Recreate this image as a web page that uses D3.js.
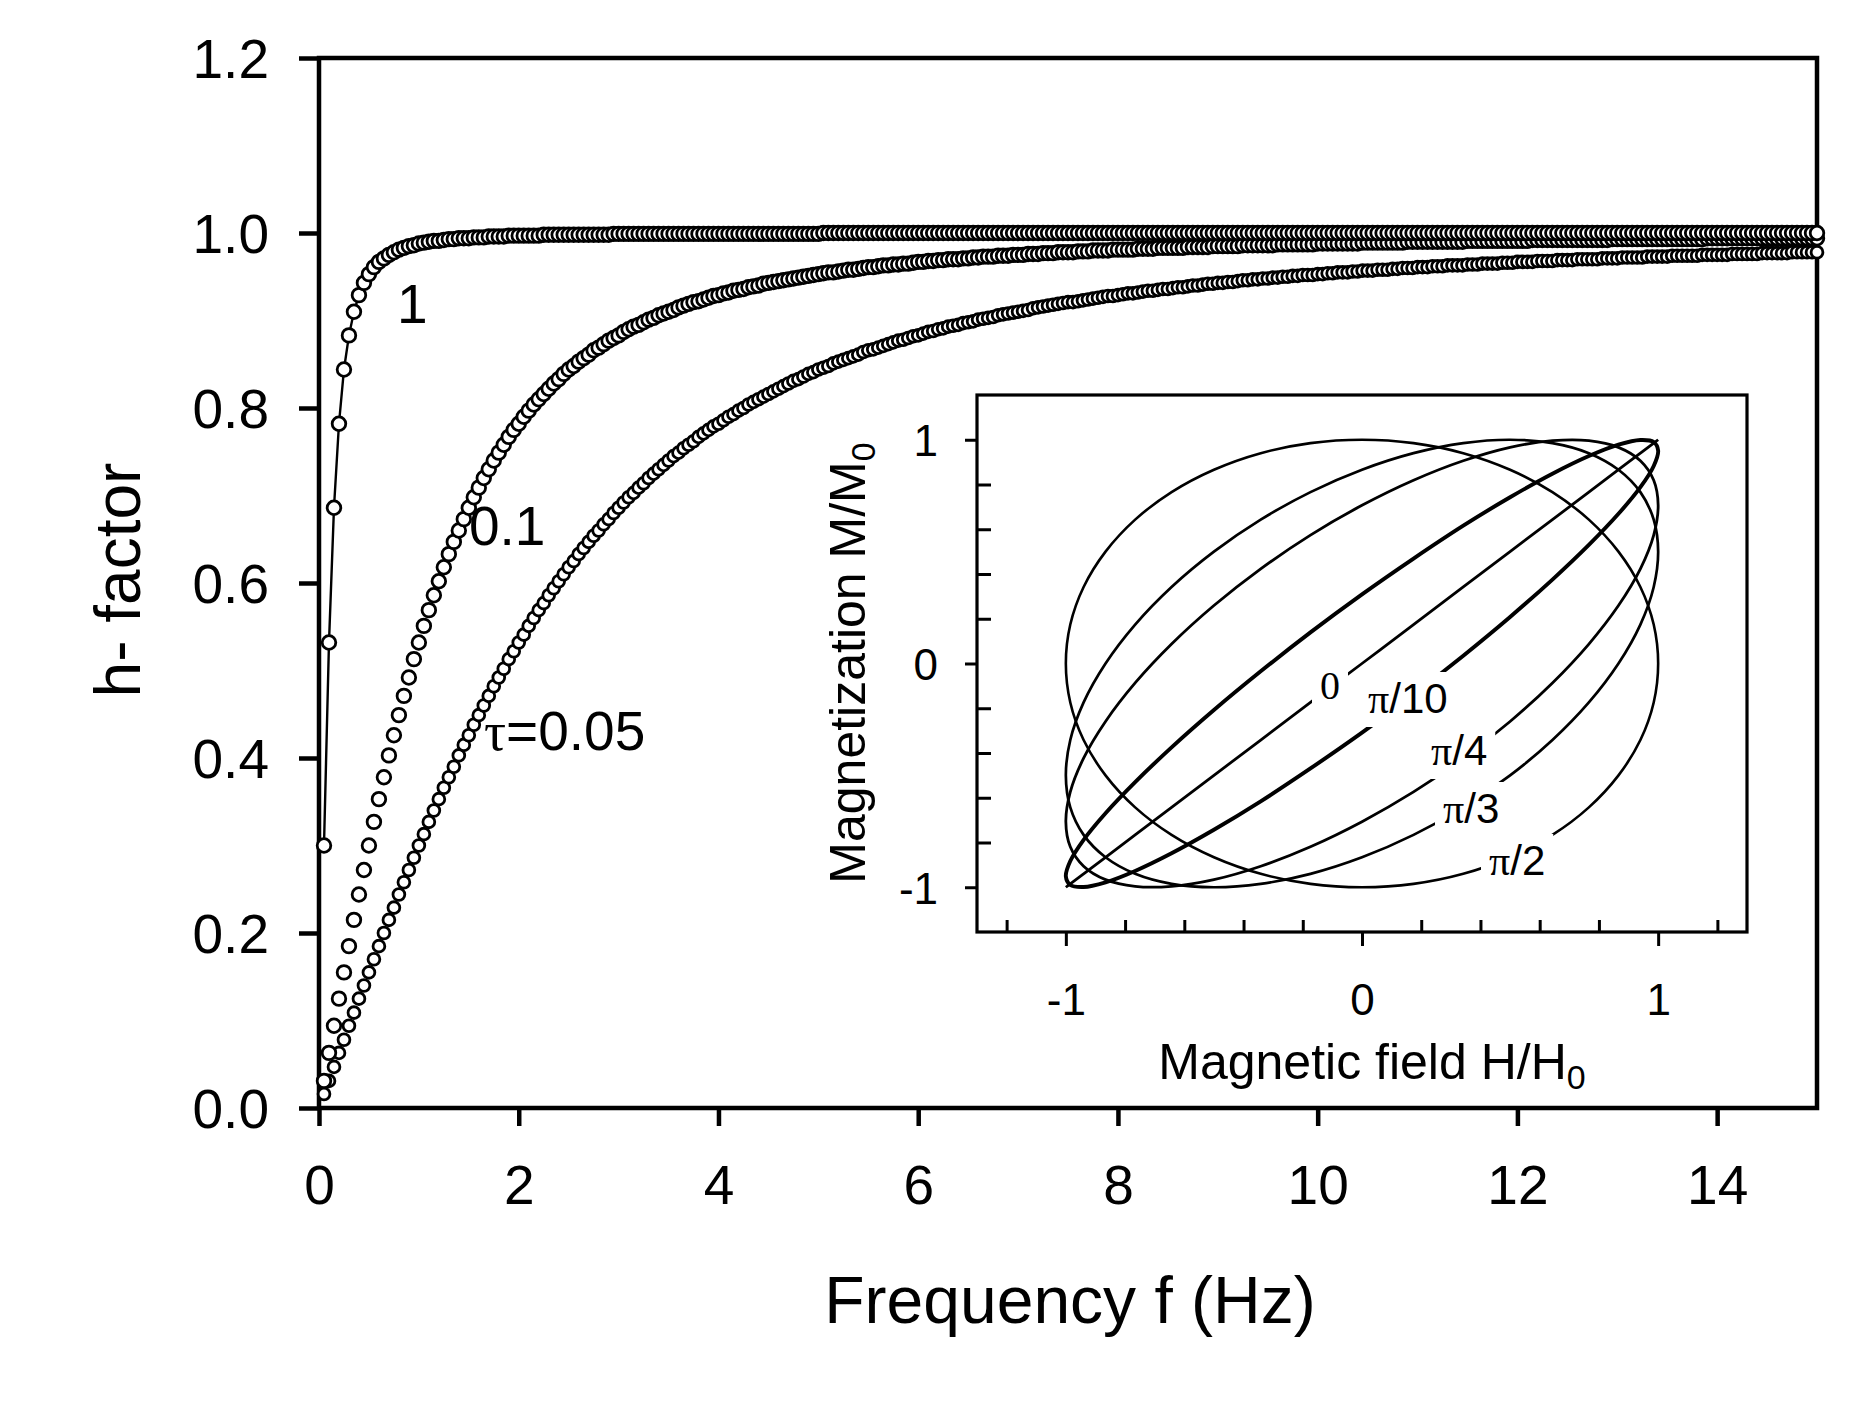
<!DOCTYPE html>
<html>
<head>
<meta charset="utf-8">
<script src="https://cdn.jsdelivr.net/npm/d3@7"></script>
<style>
  body { margin: 0; background: #fff; }
</style>
</head>
<body>
<script>
// 字体
var sans = "'Liberation Sans', Arial, sans-serif";
var serif = "'Liberation Serif', 'Times New Roman', serif";

// 主图数据: h-factor vs frequency, f = 0.05 ... 15 Hz step 0.05 (300 points per curve)
var freqStep = 0.05;
var freq = d3.range(1, 301).map(i => +(i * freqStep).toFixed(2));

var tau1 = [
0.300,0.532,0.686,0.782,0.844,0.883,0.910,0.929,0.943,0.953,
0.961,0.967,0.971,0.975,0.978,0.981,0.983,0.985,0.986,0.988,
0.989,0.990,0.991,0.991,0.992,0.993,0.993,0.994,0.994,0.994,
0.995,0.995,0.995,0.996,0.996,0.996,0.996,0.997,0.997,0.997,
0.997,0.997,0.997,0.997,0.998,0.998,0.998,0.998,0.998,0.998,
0.998,0.998,0.998,0.998,0.998,0.998,0.998,0.998,0.999,0.999,
0.999,0.999,0.999,0.999,0.999,0.999,0.999,0.999,0.999,0.999,
0.999,0.999,0.999,0.999,0.999,0.999,0.999,0.999,0.999,0.999,
0.999,0.999,0.999,0.999,0.999,0.999,0.999,0.999,0.999,0.999,
0.999,0.999,0.999,0.999,0.999,0.999,0.999,0.999,0.999,0.999,
1,1,1,1,1,1,1,1,1,1,1,1,1,1,1,1,1,1,1,1,
1,1,1,1,1,1,1,1,1,1,1,1,1,1,1,1,1,1,1,1,
1,1,1,1,1,1,1,1,1,1,1,1,1,1,1,1,1,1,1,1,
1,1,1,1,1,1,1,1,1,1,1,1,1,1,1,1,1,1,1,1,
1,1,1,1,1,1,1,1,1,1,1,1,1,1,1,1,1,1,1,1,
1,1,1,1,1,1,1,1,1,1,1,1,1,1,1,1,1,1,1,1,
1,1,1,1,1,1,1,1,1,1,1,1,1,1,1,1,1,1,1,1,
1,1,1,1,1,1,1,1,1,1,1,1,1,1,1,1,1,1,1,1,
1,1,1,1,1,1,1,1,1,1,1,1,1,1,1,1,1,1,1,1,
1,1,1,1,1,1,1,1,1,1,1,1,1,1,1,1,1,1,1,1
];

var tau01 = [
0.031,0.063,0.094,0.125,0.155,0.185,0.215,0.244,0.272,0.300,
0.327,0.353,0.378,0.403,0.426,0.449,0.471,0.492,0.513,0.532,
0.551,0.569,0.586,0.602,0.618,0.633,0.647,0.660,0.673,0.686,
0.698,0.709,0.720,0.730,0.740,0.749,0.758,0.767,0.775,0.782,
0.790,0.797,0.804,0.810,0.816,0.822,0.828,0.833,0.839,0.844,
0.848,0.853,0.857,0.861,0.866,0.869,0.873,0.877,0.880,0.883,
0.887,0.890,0.893,0.895,0.898,0.901,0.903,0.906,0.908,0.910,
0.912,0.915,0.917,0.919,0.921,0.922,0.924,0.926,0.928,0.929,
0.931,0.932,0.934,0.935,0.936,0.938,0.939,0.940,0.942,0.943,
0.944,0.945,0.946,0.947,0.948,0.949,0.950,0.951,0.952,0.953,
0.954,0.955,0.955,0.956,0.957,0.958,0.958,0.959,0.960,0.961,
0.961,0.962,0.963,0.963,0.964,0.964,0.965,0.965,0.966,0.967,
0.967,0.968,0.968,0.969,0.969,0.970,0.970,0.970,0.971,0.971,
0.972,0.972,0.973,0.973,0.973,0.974,0.974,0.974,0.975,0.975,
0.975,0.976,0.976,0.976,0.977,0.977,0.977,0.978,0.978,0.978,
0.978,0.979,0.979,0.979,0.980,0.980,0.980,0.980,0.981,0.981,
0.981,0.981,0.981,0.982,0.982,0.982,0.982,0.983,0.983,0.983,
0.983,0.983,0.983,0.984,0.984,0.984,0.984,0.984,0.985,0.985,
0.985,0.985,0.985,0.985,0.986,0.986,0.986,0.986,0.986,0.986,
0.986,0.987,0.987,0.987,0.987,0.987,0.987,0.987,0.987,0.988,
0.988,0.988,0.988,0.988,0.988,0.988,0.988,0.988,0.989,0.989,
0.989,0.989,0.989,0.989,0.989,0.989,0.989,0.990,0.990,0.990,
0.990,0.990,0.990,0.990,0.990,0.990,0.990,0.990,0.990,0.991,
0.991,0.991,0.991,0.991,0.991,0.991,0.991,0.991,0.991,0.991,
0.991,0.991,0.992,0.992,0.992,0.992,0.992,0.992,0.992,0.992,
0.992,0.992,0.992,0.992,0.992,0.992,0.992,0.992,0.993,0.993,
0.993,0.993,0.993,0.993,0.993,0.993,0.993,0.993,0.993,0.993,
0.993,0.993,0.993,0.993,0.993,0.993,0.993,0.994,0.994,0.994,
0.994,0.994,0.994,0.994,0.994,0.994,0.994,0.994,0.994,0.994,
0.994,0.994,0.994,0.994,0.994,0.994,0.994,0.994,0.994,0.994
];

var tau005 = [
0.016,0.031,0.047,0.063,0.078,0.094,0.109,0.125,0.140,0.155,
0.170,0.185,0.200,0.215,0.229,0.244,0.258,0.272,0.286,0.300,
0.313,0.327,0.340,0.353,0.366,0.378,0.390,0.403,0.415,0.426,
0.438,0.449,0.460,0.471,0.482,0.492,0.502,0.513,0.522,0.532,
0.541,0.551,0.560,0.569,0.577,0.586,0.594,0.602,0.610,0.618,
0.625,0.633,0.640,0.647,0.654,0.660,0.667,0.673,0.680,0.686,
0.692,0.698,0.703,0.709,0.714,0.720,0.725,0.730,0.735,0.740,
0.745,0.749,0.754,0.758,0.762,0.767,0.771,0.775,0.779,0.782,
0.786,0.790,0.793,0.797,0.800,0.804,0.807,0.810,0.813,0.816,
0.819,0.822,0.825,0.828,0.831,0.833,0.836,0.839,0.841,0.844,
0.846,0.848,0.851,0.853,0.855,0.857,0.859,0.861,0.864,0.866,
0.867,0.869,0.871,0.873,0.875,0.877,0.878,0.880,0.882,0.883,
0.885,0.887,0.888,0.890,0.891,0.893,0.894,0.895,0.897,0.898,
0.899,0.901,0.902,0.903,0.904,0.906,0.907,0.908,0.909,0.910,
0.911,0.912,0.914,0.915,0.916,0.917,0.918,0.919,0.920,0.921,
0.921,0.922,0.923,0.924,0.925,0.926,0.927,0.928,0.928,0.929,
0.930,0.931,0.931,0.932,0.933,0.934,0.934,0.935,0.936,0.936,
0.937,0.938,0.938,0.939,0.940,0.940,0.941,0.942,0.942,0.943,
0.943,0.944,0.944,0.945,0.946,0.946,0.947,0.947,0.948,0.948,
0.949,0.949,0.950,0.950,0.951,0.951,0.952,0.952,0.952,0.953,
0.953,0.954,0.954,0.955,0.955,0.955,0.956,0.956,0.957,0.957,
0.957,0.958,0.958,0.958,0.959,0.959,0.960,0.960,0.960,0.961,
0.961,0.961,0.962,0.962,0.962,0.963,0.963,0.963,0.963,0.964,
0.964,0.964,0.965,0.965,0.965,0.965,0.966,0.966,0.966,0.967,
0.967,0.967,0.967,0.968,0.968,0.968,0.968,0.969,0.969,0.969,
0.969,0.970,0.970,0.970,0.970,0.970,0.971,0.971,0.971,0.971,
0.972,0.972,0.972,0.972,0.972,0.973,0.973,0.973,0.973,0.973,
0.974,0.974,0.974,0.974,0.974,0.974,0.975,0.975,0.975,0.975,
0.975,0.975,0.976,0.976,0.976,0.976,0.976,0.976,0.977,0.977,
0.977,0.977,0.977,0.977,0.978,0.978,0.978,0.978,0.978,0.978
];

var xTicks = [0, 2, 4, 6, 8, 10, 12, 14];
var yTicks = [0, 0.2, 0.4, 0.6, 0.8, 1.0, 1.2];
var curveLabels = ["1", "0.1", "τ=0.05"];

// 插图数据: M/M0 vs H/H0 loops, read every 10 degrees round the loop
var loopH = [0,0.174,0.342,0.5,0.643,0.766,0.866,0.940,0.985,1,0.985,0.940,0.866,0.766,0.643,0.5,0.342,0.174,
             0,-0.174,-0.342,-0.5,-0.643,-0.766,-0.866,-0.940,-0.985,-1,-0.985,-0.940,-0.866,-0.766,-0.643,-0.5,-0.342,-0.174];
var loopM0 = [0,0.174,0.342,0.5,0.643,0.766,0.866,0.940,0.985,1,0.985,0.940,0.866,0.766,0.643,0.5,0.342,0.174,
             0,-0.174,-0.342,-0.5,-0.643,-0.766,-0.866,-0.940,-0.985,-1,-0.985,-0.940,-0.866,-0.766,-0.643,-0.5,-0.342,-0.174];
var loopM10 = [-0.309,-0.139,0.035,0.208,0.375,0.530,0.669,0.788,0.883,0.951,0.990,0.999,0.978,0.927,0.848,0.743,0.616,0.469,
             0.309,0.139,-0.035,-0.208,-0.375,-0.530,-0.669,-0.788,-0.883,-0.951,-0.990,-0.999,-0.978,-0.927,-0.848,-0.743,-0.616,-0.469];
var loopM4 = [-0.707,-0.574,-0.423,-0.259,-0.087,0.087,0.259,0.423,0.574,0.707,0.819,0.906,0.966,0.996,0.996,0.966,0.906,0.819,
             0.707,0.574,0.423,0.259,0.087,-0.087,-0.259,-0.423,-0.574,-0.707,-0.819,-0.906,-0.966,-0.996,-0.996,-0.966,-0.906,-0.819];
var loopM3 = [-0.866,-0.766,-0.643,-0.5,-0.342,-0.174,0,0.174,0.342,0.5,0.643,0.766,0.866,0.940,0.985,1,0.985,0.940,
             0.866,0.766,0.643,0.5,0.342,0.174,0,-0.174,-0.342,-0.5,-0.643,-0.766,-0.866,-0.940,-0.985,-1,-0.985,-0.940];
var loopM2 = [-1,-0.985,-0.940,-0.866,-0.766,-0.643,-0.5,-0.342,-0.174,0,0.174,0.342,0.5,0.643,0.766,0.866,0.940,0.985,
             1,0.985,0.940,0.866,0.766,0.643,0.5,0.342,0.174,0,-0.174,-0.342,-0.5,-0.643,-0.766,-0.866,-0.940,-0.985];
var loopNames = ["0", "π/10", "π/4", "π/3", "π/2"];
var insetMajor = [-1, 0, 1];
var insetMinorX = [-1.2, -0.8, -0.6, -0.4, -0.2, 0.2, 0.4, 0.6, 0.8, 1.2];
var insetMinorY = [-0.8, -0.6, -0.4, -0.2, 0.2, 0.4, 0.6, 0.8];

var svg = d3.select("body").append("svg")
    .attr("width", 1868)
    .attr("height", 1410);
svg.append("rect").attr("width", 1868).attr("height", 1410).attr("fill", "#fff");

// 主图比例尺
var x = d3.scaleLinear().domain([0, 15]).range([319, 1817]);
var y = d3.scaleLinear().domain([0, 1.2]).range([1108, 58]);

// 坐标轴
var yAxis = svg.append("g")
    .attr("transform", "translate(319,0)")
    .call(d3.axisLeft(y).tickValues(yTicks).tickFormat(d3.format(".1f"))
        .tickSize(20).tickSizeOuter(0).tickPadding(30));
var xAxis = svg.append("g")
    .attr("transform", "translate(0,1108)")
    .call(d3.axisBottom(x).tickValues(xTicks).tickFormat(d => String(d))
        .tickSize(18).tickSizeOuter(0).tickPadding(39));
[yAxis, xAxis].forEach(function(g){
  g.select(".domain").remove();
  g.selectAll(".tick line").attr("stroke", "#000").attr("stroke-width", 4.5);
  g.selectAll("text").attr("font-family", sans).attr("font-size", 55).attr("fill", "#000");
});
yAxis.selectAll("text").attr("dy", "0.36em");

svg.append("rect")
    .attr("x", x(0)).attr("y", y(1.2))
    .attr("width", x(15) - x(0)).attr("height", y(0) - y(1.2))
    .attr("fill", "none").attr("stroke", "#000").attr("stroke-width", 4.5);

// 曲线 tau = 1 带连线
svg.append("path")
    .datum(freq.map((f, i) => [f, tau1[i]]))
    .attr("d", d3.line().x(d => x(d[0])).y(d => y(d[1])))
    .attr("fill", "none").attr("stroke", "#000").attr("stroke-width", 2.4);

var series = [
  {vals: tau005, r: 5.9},
  {vals: tau01, r: 6.8},
  {vals: tau1, r: 6.8}
];
series.forEach(function(s){
  svg.append("g").selectAll("circle")
    .data(freq.map((f, i) => [f, s.vals[i]]))
    .join("circle")
    .attr("cx", d => x(d[0]))
    .attr("cy", d => y(d[1]))
    .attr("r", s.r)
    .attr("fill", "#fff")
    .attr("stroke", "#000")
    .attr("stroke-width", 2.8);
});

// 曲线标签
var labelPos = [[397, 323], [469, 545], [484, 750]];
curveLabels.forEach(function(t, i){
  var txt = svg.append("text")
      .attr("x", labelPos[i][0]).attr("y", labelPos[i][1])
      .attr("font-family", sans).attr("font-size", 55);
  if (t.charAt(0) === "τ") {
    txt.append("tspan").attr("font-family", serif).text("τ");
    txt.append("tspan").text(t.slice(1));
  } else {
    txt.text(t);
  }
});

// 轴标题
svg.append("text")
    .attr("x", 1070).attr("y", 1323)
    .attr("text-anchor", "middle")
    .attr("font-family", sans).attr("font-size", 66)
    .text("Frequency f (Hz)");
svg.append("text")
    .attr("transform", "translate(140,580) rotate(-90)")
    .attr("text-anchor", "middle")
    .attr("font-family", sans).attr("font-size", 64)
    .text("h- factor");

// ---------- 插图 ----------
var xi = d3.scaleLinear().domain([-1.3, 1.3]).range([977, 1747]);
var yi = d3.scaleLinear().domain([-1.2, 1.2]).range([932, 395]);
var inset = svg.append("g").attr("id", "inset");

inset.append("rect")
    .attr("x", xi(-1.3)).attr("y", yi(1.2))
    .attr("width", xi(1.3) - xi(-1.3)).attr("height", yi(-1.2) - yi(1.2))
    .attr("fill", "#fff");

var iyMajor = inset.append("g").attr("transform", "translate(" + xi(-1.3) + ",0)")
    .call(d3.axisLeft(yi).tickValues(insetMajor).tickFormat(d => String(d))
        .tickSize(12).tickSizeOuter(0).tickPadding(27));
var iyMinor = inset.append("g").attr("transform", "translate(" + xi(-1.3) + ",0)")
    .call(d3.axisLeft(yi).tickValues(insetMinorY).tickFormat("").tickSize(-14).tickSizeOuter(0));
var ixMajor = inset.append("g").attr("transform", "translate(0," + yi(-1.2) + ")")
    .call(d3.axisBottom(xi).tickValues(insetMajor).tickFormat(d => String(d))
        .tickSize(14).tickSizeOuter(0).tickPadding(38));
var ixMinor = inset.append("g").attr("transform", "translate(0," + yi(-1.2) + ")")
    .call(d3.axisBottom(xi).tickValues(insetMinorX).tickFormat("").tickSize(-12).tickSizeOuter(0));
[iyMajor, iyMinor, ixMajor, ixMinor].forEach(function(g){
  g.select(".domain").remove();
  g.selectAll(".tick line").attr("stroke", "#000").attr("stroke-width", 3);
  g.selectAll("text").attr("font-family", sans).attr("font-size", 44).attr("fill", "#000");
});
iyMajor.selectAll("text").attr("dy", "0.36em");

// loops
var loopSets = [loopM0, loopM10, loopM4, loopM3, loopM2];
var loopWidth = [2.8, 3.9, 2.8, 2.7, 2.6];
var loopLine = d3.line()
    .x(d => xi(d[0])).y(d => yi(d[1]))
    .curve(d3.curveCatmullRomClosed.alpha(0.5));
loopSets.forEach(function(m, j){
  inset.append("path")
      .datum(loopH.map((h, i) => [h, m[i]]))
      .attr("d", loopLine)
      .attr("fill", "none").attr("stroke", "#000")
      .attr("stroke-width", loopWidth[j]);
});

inset.append("rect")
    .attr("x", xi(-1.3)).attr("y", yi(1.2))
    .attr("width", xi(1.3) - xi(-1.3)).attr("height", yi(-1.2) - yi(1.2))
    .attr("fill", "none").attr("stroke", "#000").attr("stroke-width", 3.2);

// loop labels with white boxes that cut the lines
var loopLabelPos = [[1320, 699], [1368, 713], [1431, 765], [1443, 823], [1489, 875]];
var boxLayer = inset.append("g");
var textLayer = inset.append("g");
loopNames.forEach(function(name, i){
  var t = textLayer.append("text")
      .attr("x", loopLabelPos[i][0]).attr("y", loopLabelPos[i][1])
      .attr("font-size", 42).attr("font-family", sans);
  if (name === "0") {
    t.attr("font-family", serif).attr("font-size", 40).text("0");
  } else {
    t.append("tspan").attr("font-family", serif).text("π");
    t.append("tspan").text(name.slice(1));
  }
  var b = t.node().getBBox();
  boxLayer.append("rect")
      .attr("x", b.x - 8).attr("y", b.y - 3)
      .attr("width", b.width + 16).attr("height", b.height + 8)
      .attr("fill", "#fff");
});

// inset axis titles
var ixt = inset.append("text")
    .attr("x", 1372).attr("y", 1079)
    .attr("text-anchor", "middle")
    .attr("font-family", sans).attr("font-size", 50);
ixt.append("tspan").text("Magnetic field H/H");
ixt.append("tspan").attr("font-size", 34).attr("dy", 10).text("0");

var iyt = inset.append("text")
    .attr("transform", "translate(865,663) rotate(-90)")
    .attr("text-anchor", "middle")
    .attr("font-family", sans).attr("font-size", 50);
iyt.append("tspan").text("Magnetization M/M");
iyt.append("tspan").attr("font-size", 34).attr("dy", 10).text("0");
</script>
</body>
</html>
